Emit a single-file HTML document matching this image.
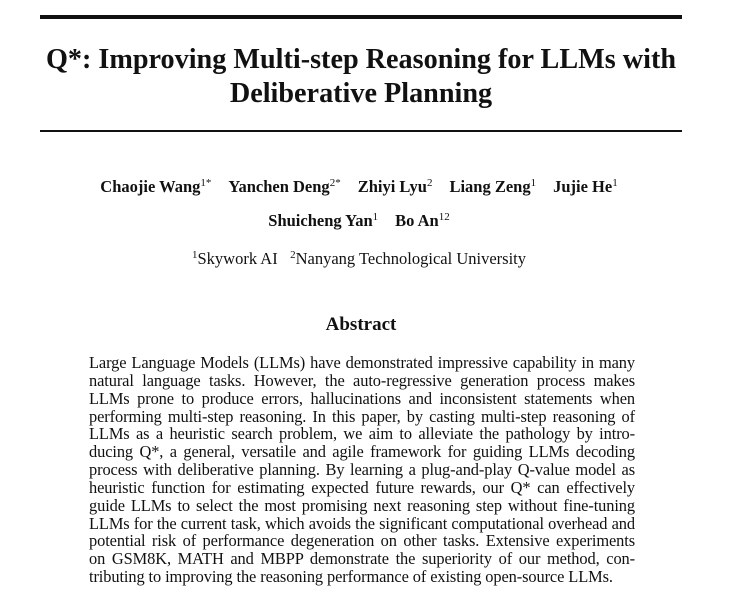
<!DOCTYPE html>
<html><head><meta charset="utf-8"><style>
body{margin:0;width:750px;height:601px;background:#fff;font-family:"Liberation Serif",serif;color:#111;position:relative;overflow:hidden}
.r{position:absolute;left:40px;width:642px;background:#111}
.t{position:absolute;left:0;width:722px;text-align:center;font-weight:bold;font-size:28.2px;line-height:30px;white-space:nowrap}
.c{position:absolute;left:0;width:718px;text-align:center;font-size:16.5px;white-space:nowrap}
.a{font-weight:bold;margin:0 8.5px}
sup{font-size:11px;font-weight:normal;vertical-align:6px;line-height:0}
.l{position:absolute;left:89px;width:546px;font-size:16.4px;line-height:18px;text-align:justify;text-align-last:justify;white-space:nowrap;letter-spacing:-0.1px}
.l.e{text-align-last:left}
</style></head><body>
<div class="r" style="top:15px;height:4px"></div>
<div class="t" style="top:45px">Q*: Improving Multi-step Reasoning for LLMs with</div>
<div class="t" style="top:79px">Deliberative Planning</div>
<div class="r" style="top:130px;height:1.5px"></div>
<div class="c" style="top:177px"><span class="a">Chaojie Wang<sup>1*</sup></span><span class="a">Yanchen Deng<sup>2*</sup></span><span class="a">Zhiyi Lyu<sup>2</sup></span><span class="a">Liang Zeng<sup>1</sup></span><span class="a">Jujie He<sup>1</sup></span></div>
<div class="c" style="top:211px"><span class="a">Shuicheng Yan<sup>1</sup></span><span class="a">Bo An<sup>12</sup></span></div>
<div class="c" style="top:249px"><sup>1</sup>Skywork AI &nbsp;&nbsp;<sup>2</sup>Nanyang Technological University</div>
<div class="c" style="top:314px;font-size:19px;font-weight:bold;width:722px">Abstract</div>
<div class="l" style="top:354px">Large Language Models (LLMs) have demonstrated impressive capability in many</div>
<div class="l" style="top:372px">natural language tasks. However, the auto-regressive generation process makes</div>
<div class="l" style="top:390px">LLMs prone to produce errors, hallucinations and inconsistent statements when</div>
<div class="l" style="top:408px">performing multi-step reasoning. In this paper, by casting multi-step reasoning of</div>
<div class="l" style="top:425px">LLMs as a heuristic search problem, we aim to alleviate the pathology by intro-</div>
<div class="l" style="top:443px">ducing Q*, a general, versatile and agile framework for guiding LLMs decoding</div>
<div class="l" style="top:461px">process with deliberative planning. By learning a plug-and-play Q-value model as</div>
<div class="l" style="top:479px">heuristic function for estimating expected future rewards, our Q* can effectively</div>
<div class="l" style="top:497px">guide LLMs to select the most promising next reasoning step without fine-tuning</div>
<div class="l" style="top:515px">LLMs for the current task, which avoids the significant computational overhead and</div>
<div class="l" style="top:532px">potential risk of performance degeneration on other tasks. Extensive experiments</div>
<div class="l" style="top:550px">on GSM8K, MATH and MBPP demonstrate the superiority of our method, con-</div>
<div class="l e" style="top:568px">tributing to improving the reasoning performance of existing open-source LLMs.</div>
</body></html>
